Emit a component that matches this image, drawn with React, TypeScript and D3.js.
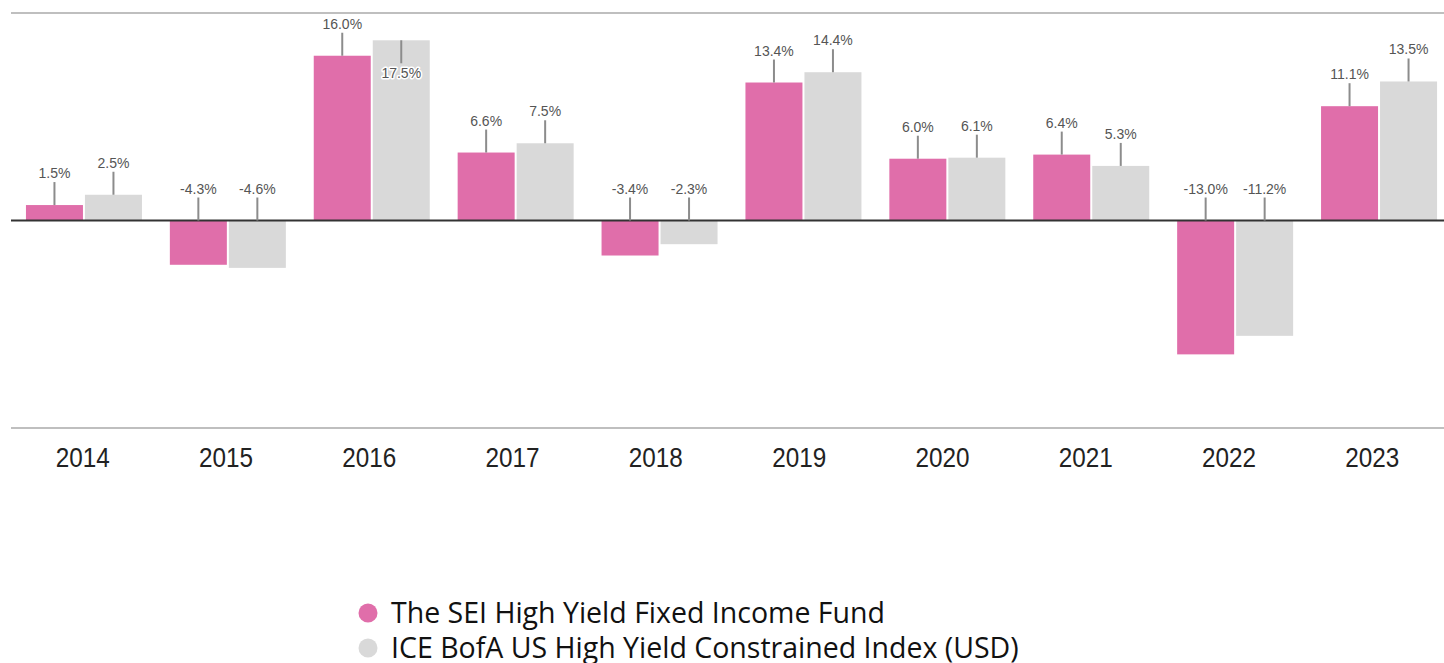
import React from "react";
import * as d3 from "d3";

const years = ["2014", "2015", "2016", "2017", "2018", "2019", "2020", "2021", "2022", "2023"];
const fundValues = [1.5, -4.3, 16.0, 6.6, -3.4, 13.4, 6.0, 6.4, -13.0, 11.1];
const indexValues = [2.5, -4.6, 17.5, 7.5, -2.3, 14.4, 6.1, 5.3, -11.2, 13.5];
const seriesNames = ["The SEI High Yield Fixed Income Fund", "ICE BofA US High Yield Constrained Index (USD)"];
const seriesColors = ["#E06EAA", "#D9D9D9"];
const yDomain = [-20.15, 20.15];

const W = 1444;
const H = 663;
const left = 11;
const right = 1444;
const top = 13;
const bottom = 428;

export default function App() {
  const xBars = d3.scaleBand<string>().domain(years).range([12, 1451]).padding(0);
  const xLabels = d3.scaleBand<string>().domain(years).range([left, right]).padding(0);
  const y = d3.scaleLinear().domain(yDomain).range([bottom, top]);
  const zero = y(0);
  const barW = 57;
  const gap = 2;
  const series = [fundValues, indexValues];
  const lead = 23;
  const labelFont = "Arial, 'Liberation Sans', sans-serif";

  const bars: React.ReactNode[] = [];
  const labels: React.ReactNode[] = [];
  years.forEach((yr, i) => {
    const cx = (xBars(yr) as number) + xBars.bandwidth() / 2;
    series.forEach((vals, s) => {
      const v = vals[i];
      const bx = s === 0 ? cx - gap / 2 - barW : cx + gap / 2;
      const y0 = y(Math.max(0, v));
      const y1 = y(Math.min(0, v));
      bars.push(
        <rect key={`b${s}-${i}`} x={bx} y={y0} width={barW} height={y1 - y0} fill={seriesColors[s]} />
      );
      const mid = bx + barW / 2;
      const anchorY = v >= 0 ? y(v) : zero;
      const lineTop = anchorY - lead;
      const text = `${v.toFixed(1)}%`;
      const inside = lineTop - 16 < top;
      labels.push(
        <g key={`l${s}-${i}`}>
          <line
            x1={mid}
            x2={mid}
            y1={anchorY}
            y2={inside ? anchorY + lead : lineTop}
            stroke="#8c8c8c"
            strokeWidth={2}
          />
          <text
            x={mid}
            y={inside ? anchorY + lead + 15 : lineTop - 4}
            textAnchor="middle"
            fontFamily={labelFont}
            fontSize={14}
            fill="#555"
            stroke="#fff"
            strokeWidth={3}
            strokeLinejoin="round"
            style={{ paintOrder: "stroke" }}
          >
            {text}
          </text>
        </g>
      );
    });
  });

  return (
    <svg width={W} height={H} style={{ position: "absolute", left: 0, top: 0, background: "#fff" }}>
      <line x1={left} x2={right} y1={top} y2={top} stroke="#bfbfbf" strokeWidth={2} />
      <line x1={left} x2={right} y1={bottom} y2={bottom} stroke="#bfbfbf" strokeWidth={2} />
      {bars}
      <line x1={left} x2={right} y1={zero} y2={zero} stroke="#333" strokeWidth={2} />
      {labels}
      {years.map((yr) => (
        <text
          key={yr}
          transform={`translate(${(xLabels(yr) as number) + xLabels.bandwidth() / 2}, 467) scale(0.9, 1)`}
          textAnchor="middle"
          fontFamily={labelFont}
          fontSize={27}
          fill="#222"
        >
          {yr}
        </text>
      ))}
      {seriesNames.map((name, s) => (
        <g key={name} transform={`translate(368, ${613 + s * 35})`}>
          <circle cx={0} cy={0} r={9.5} fill={seriesColors[s]} />
          <text x={23} y={10} fontFamily="'Open Sans', sans-serif" fontSize={28.5} fill="#111">
            {name}
          </text>
        </g>
      ))}
    </svg>
  );
}
